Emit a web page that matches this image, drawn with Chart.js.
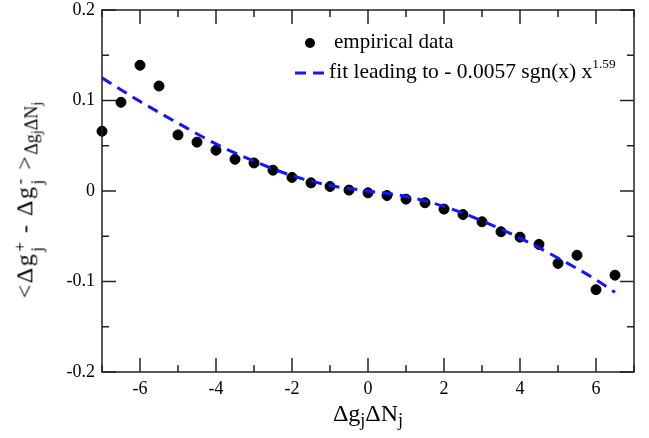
<!DOCTYPE html>
<html>
<head>
<meta charset="utf-8">
<script src="https://cdn.jsdelivr.net/npm/chart.js@4.4.1/dist/chart.umd.min.js"></script>
<style>
    body { margin: 0; background: #fff; }
    #wrap { position: relative; width: 649px; height: 438px; font-family: 'Liberation Serif', serif; color: #000; }
    .lbl { position: absolute; white-space: nowrap; line-height: 1; }
    .ss { display: inline-flex; flex-direction: column; vertical-align: 0.38em; font-size: 0.72em; line-height: 0.95; margin-left: 1px; }
    sub { font-size: 0.75em; line-height: 0; vertical-align: -0.3em; }
    sub sub { font-size: 0.8em; }
</style>
</head>
<body>
<div id="wrap">
    <canvas id="chart" width="649" height="438"></canvas>
    <div class="lbl" id="xtitle" style="font-size:24px; left:368px; top:401px; transform: translateX(-50%);">&Delta;g<sub>j</sub>&Delta;N<sub>j</sub></div>
    <div class="lbl" id="ytitle" style="font-size:24px; letter-spacing:1.5px; left:29px; top:200px; transform: translate(-50%, -50%) rotate(-90deg);">&lt;&Delta;g<span class="ss"><span>+</span><span>j</span></span> - &Delta;g<span class="ss"><span>-</span><span>j</span></span> &gt;<sub style="letter-spacing:0">&Delta;g<sub>j</sub>&Delta;N<sub>j</sub></sub></div>
    <div class="lbl" style="font-size:21px; left:334px; top:43px; transform: translateY(-55%);">empirical data</div>
    <div class="lbl" style="font-size:21.5px; left:329px; top:73px; transform: translateY(-55%);">fit leading to - 0.0057 sgn(x) x<sup style="font-size:0.62em; line-height:0; vertical-align: 0.75em;">1.59</sup></div>
</div>
<script>
// empirical points
const empiricalX = [-7, -6.5, -6, -5.5, -5, -4.5, -4, -3.5, -3, -2.5, -2, -1.5, -1, -0.5,
    0, 0.5, 1, 1.5, 2, 2.5, 3, 3.5, 4, 4.5, 5, 5.5, 6, 6.5];
const empiricalY = [0.066, 0.098, 0.139, 0.116, 0.062, 0.054, 0.045, 0.035, 0.031, 0.023, 0.015, 0.009, 0.005, 0.001,
    -0.002, -0.005, -0.009, -0.013, -0.020, -0.026, -0.034, -0.045, -0.051, -0.059, -0.080, -0.071, -0.109, -0.093];

// dashed fit curve
const fitX = [-7, -6, -5, -4, -3, -2, -1, 0, 1, 2, 3, 4, 5, 6, 6.5];
const fitY = [0.125, 0.099, 0.075, 0.052, 0.033, 0.017, 0.006, 0, -0.006, -0.017, -0.033, -0.052, -0.074, -0.098, -0.112];

const xTicks = [-6, -4, -2, 0, 2, 4, 6];
const yTicks = [-0.2, -0.1, 0, 0.1, 0.2];

const serif = "'Liberation Serif', serif";

/**
 * Frame with inward ticks on all four sides.
 */
const frameTicks = {
    id: 'frameTicks',
    afterDraw(chart) {
        const ctx = chart.ctx;
        const a = chart.chartArea;
        const xs = chart.scales.x;
        const ys = chart.scales.y;
        ctx.save();
        ctx.strokeStyle = '#222';
        ctx.lineWidth = 1.5;
        ctx.strokeRect(a.left, a.top, a.right - a.left, a.bottom - a.top);
        ctx.beginPath();
        for (let v = -7; v <= 7; v += 1) {
            const px = xs.getPixelForValue(v);
            const len = v % 2 === 0 ? 14 : 7;
            ctx.moveTo(px, a.bottom); ctx.lineTo(px, a.bottom - len);
            ctx.moveTo(px, a.top); ctx.lineTo(px, a.top + len);
        }
        for (let i = -4; i <= 4; i++) {
            const py = ys.getPixelForValue(i * 0.05);
            const len = i % 2 === 0 ? 14 : 7;
            ctx.moveTo(a.left, py); ctx.lineTo(a.left + len, py);
            ctx.moveTo(a.right, py); ctx.lineTo(a.right - len, py);
        }
        ctx.stroke();
        ctx.restore();
    }
};

const legendMarks = {
    id: 'legendMarks',
    afterDraw(chart) {
        const ctx = chart.ctx;
        ctx.save();
        ctx.fillStyle = '#000';
        ctx.beginPath();
        ctx.arc(310, 43, 5, 0, Math.PI * 2);
        ctx.fill();
        ctx.strokeStyle = '#1414ff';
        ctx.lineWidth = 3;
        ctx.setLineDash([11, 7]);
        ctx.beginPath();
        ctx.moveTo(295, 73);
        ctx.lineTo(324, 73);
        ctx.stroke();
        ctx.restore();
    }
};

function initChart() {
    const context = document.getElementById('chart').getContext('2d');
    const settings = {
        type: 'scatter',
        data: {
            datasets: [
                {
                    label: 'fit',
                    data: fitX.map((x, i) => ({ x: x, y: fitY[i] })),
                    showLine: true,
                    borderColor: '#1414ff',
                    borderWidth: 3,
                    borderDash: [11, 7],
                    pointRadius: 0,
                    cubicInterpolationMode: 'monotone',
                    clip: false,
                    order: 0,
                },
                {
                    label: 'empirical data',
                    data: empiricalX.map((x, i) => ({ x: x, y: empiricalY[i] })),
                    backgroundColor: '#000',
                    borderColor: '#000',
                    pointRadius: 5,
                    clip: false,
                    order: 1,
                }
            ]
        },
        options: {
            responsive: false,
            animation: false,
            layout: { padding: { top: 10, right: 15, left: 0, bottom: 0 } },
            plugins: { legend: { display: false }, tooltip: { enabled: false } },
            scales: {
                x: {
                    type: 'linear',
                    min: -7,
                    max: 7,
                    grid: { display: false, drawTicks: false },
                    border: { display: false },
                    afterBuildTicks: (s) => { s.ticks = xTicks.map(v => ({ value: v })); },
                    afterFit: (s) => { s.height = 66; s.paddingLeft = 0; s.paddingRight = 0; },
                    ticks: {
                        padding: 6,
                        maxRotation: 0,
                        color: '#000',
                        font: { family: serif, size: 18 },
                        callback: (v) => String(v),
                    }
                },
                y: {
                    type: 'linear',
                    min: -0.2,
                    max: 0.2,
                    grid: { display: false, drawTicks: false },
                    border: { display: false },
                    afterBuildTicks: (s) => { s.ticks = yTicks.map(v => ({ value: v })); },
                    afterFit: (s) => { s.width = 102; s.paddingTop = 0; s.paddingBottom = 0; },
                    ticks: {
                        padding: 7,
                        color: '#000',
                        font: { family: serif, size: 18 },
                        callback: (v) => String(Math.round(v * 10) / 10),
                    }
                }
            }
        },
        plugins: [frameTicks, legendMarks]
    };
    new Chart(context, settings);
}

initChart();
</script>
</body>
</html>
